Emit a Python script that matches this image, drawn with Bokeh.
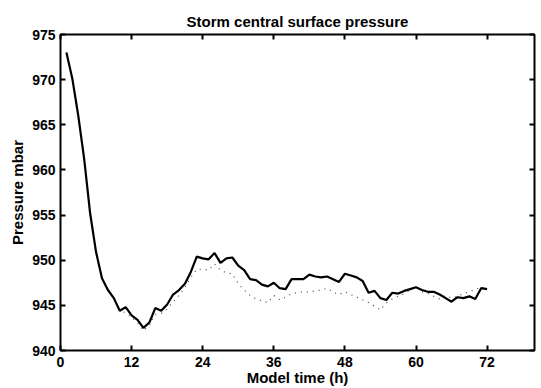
from bokeh.plotting import figure
from bokeh.models import Range1d, FixedTicker, LinearAxis
from bokeh.embed import file_html
from bokeh.resources import INLINE

# ---- data ----
hours = list(range(1, 73))

pressure_solid = [
    973.0, 970.1, 966.0, 961.2, 955.2, 950.9, 948.0, 946.7, 945.8, 944.4,
    944.8, 943.9, 943.4, 942.5, 943.1, 944.7, 944.4, 945.1, 946.2, 946.7,
    947.4, 948.7, 950.4, 950.2, 950.1, 950.8, 949.7, 950.2, 950.3, 949.4,
    948.9, 947.9, 947.8, 947.3, 947.1, 947.5, 946.9, 946.8, 947.9, 947.9,
    947.9, 948.4, 948.2, 948.1, 948.2, 947.9, 947.6, 948.5, 948.3, 948.1,
    947.7, 946.4, 946.6, 945.8, 945.6, 946.4, 946.3, 946.6, 946.8, 947.0,
    946.7, 946.5, 946.5, 946.2, 945.8, 945.4, 945.9, 945.8, 946.0, 945.7,
    946.9, 946.8,
]

pressure_dotted = [
    973.0, 970.1, 966.0, 961.2, 955.2, 950.9, 948.0, 946.7, 945.8, 944.4,
    944.2, 943.7, 943.1, 942.2, 942.8, 944.0, 944.1, 944.6, 945.4, 946.1,
    947.0, 948.1, 949.0, 949.0, 948.9, 949.6, 948.9, 948.6, 948.5, 947.4,
    946.7, 946.1, 945.7, 945.5, 945.3, 946.1, 945.6, 945.9, 946.3, 946.4,
    946.5, 946.5, 946.6, 946.7, 946.9, 946.5, 946.2, 946.5, 946.2, 945.9,
    945.6, 945.3, 944.9, 944.5, 945.3, 945.7, 946.0, 946.3, 946.7, 947.1,
    946.5, 946.3, 946.0, 945.7, 946.1, 945.8, 946.0, 946.3, 946.5, 946.8,
    947.0, 946.7,
]

x_ticks = [0, 12, 24, 36, 48, 60, 72]
y_ticks = [940, 945, 950, 955, 960, 965, 970, 975]

title_text = "Storm central surface pressure"
x_label_text = "Model time (h)"
y_label_text = "Pressure mbar"

FONT = "Liberation Sans"

p = figure(width=541, height=388, output_backend="svg", toolbar_location=None,
           x_range=Range1d(0, 80), y_range=Range1d(940, 975),
           min_border_left=60, min_border_right=7,
           min_border_top=34, min_border_bottom=38,
           background_fill_color="white", border_fill_color="white")

p.title.text = title_text
p.title.align = "center"
p.title.text_font = FONT
p.title.text_font_style = "bold"
p.title.text_font_size = "15px"
p.title.text_color = "black"
p.title.standoff = 9
p.title.offset = 0

p.xgrid.visible = False
p.ygrid.visible = False
p.outline_line_color = "black"
p.outline_line_width = 2


def style_axis(ax, ticks, show_labels=True):
    ax.ticker = FixedTicker(ticks=ticks)
    ax.minor_tick_line_color = None
    ax.axis_line_color = None
    ax.major_tick_in = 5
    ax.major_tick_out = 0
    ax.major_tick_line_width = 2
    ax.major_tick_line_color = "black"
    ax.major_label_text_font = FONT
    ax.major_label_text_font_style = "bold"
    if show_labels:
        ax.major_label_text_font_size = "14px"
        ax.major_label_text_color = "black"
    else:
        ax.major_label_text_font_size = "1px"
        ax.major_label_text_color = None
        ax.major_label_standoff = 0


def style_label(ax, text, standoff):
    ax.axis_label = text
    ax.axis_label_text_font = FONT
    ax.axis_label_text_font_style = "bold"
    ax.axis_label_text_font_size = "15px"
    ax.axis_label_text_color = "black"
    ax.axis_label_standoff = standoff


style_axis(p.xaxis[0], x_ticks)
style_axis(p.yaxis[0], y_ticks)
p.xaxis[0].major_label_standoff = 6
p.yaxis[0].major_label_standoff = 5
style_label(p.xaxis[0], x_label_text, -1)
style_label(p.yaxis[0], y_label_text, 3)

top_axis = LinearAxis()
right_axis = LinearAxis()
style_axis(top_axis, x_ticks, show_labels=False)
style_axis(right_axis, y_ticks, show_labels=False)
p.add_layout(top_axis, "above")
p.add_layout(right_axis, "right")

p.line(hours, pressure_dotted, line_color="#444444", line_width=1.2,
       line_dash="1 5")
p.line(hours, pressure_solid, line_color="black", line_width=2.2)

open("out.html", "w").write(file_html(p, INLINE))
